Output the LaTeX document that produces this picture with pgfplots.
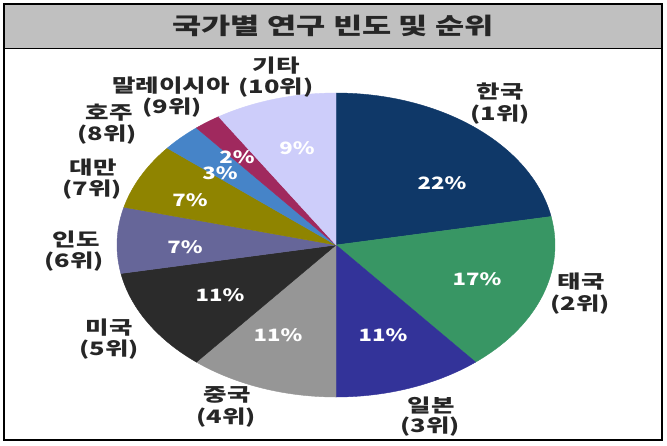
\documentclass[border=0pt]{standalone}
\usepackage{pgfplots}
\pgfplotsset{compat=1.18}
\usepackage{fontspec}
\setmainfont{Noto Sans CJK KR}
\definecolor{cKor}{HTML}{0F3868}
\definecolor{cTha}{HTML}{389664}
\definecolor{cJpn}{HTML}{333399}
\definecolor{cChn}{HTML}{969696}
\definecolor{cUsa}{HTML}{2B2B2B}
\definecolor{cInd}{HTML}{666699}
\definecolor{cTwn}{HTML}{8F8400}
\definecolor{cAus}{HTML}{4684C8}
\definecolor{cMys}{HTML}{A0295E}
\definecolor{cEtc}{HTML}{CDCDFA}
\definecolor{cTitle}{HTML}{C0C0C0}
\tikzset{
  lab/.style={font=\bfseries\fontsize{18.5}{18.5}\selectfont,xscale=1.38,inner sep=0pt,text=black!85},
  pct/.style={font=\bfseries\fontsize{17}{17}\selectfont,xscale=1.3,inner sep=0pt,text=white}}
\begin{document}
\begin{tikzpicture}
\begin{axis}[width=667pt,height=445pt,scale only axis,
  xmin=0,xmax=667,ymin=0,ymax=445,y dir=reverse,hide axis,clip=false]
\fill[white] (axis cs:0,0) rectangle (axis cs:667,445);
\fill[cTitle] (axis cs:4,4) rectangle (axis cs:662,48);
\draw[black,line width=1pt] (axis cs:4,48) -- (axis cs:662,48);
\draw[black,line width=1.5pt] (axis cs:4,4) rectangle (axis cs:662,440);
\node[font=\bfseries\fontsize{23}{23}\selectfont,xscale=1.38,inner sep=0pt,text=black!85] at (axis cs:333,26) {국가별 연구 빈도 및 순위};
% slices: percent ranges (cumulative), clockwise from top
\addplot[fill=cKor,draw=cKor,domain=0:22,samples=60,variable=\t] ({336+219*sin(3.6*\t)},{245-152*cos(3.6*\t)}) -- (axis cs:336,245) -- cycle;
\addplot[fill=cTha,draw=cTha,domain=22:39,samples=50,variable=\t] ({336+219*sin(3.6*\t)},{245-152*cos(3.6*\t)}) -- (axis cs:336,245) -- cycle;
\addplot[fill=cJpn,draw=cJpn,domain=39:50,samples=40,variable=\t] ({336+219*sin(3.6*\t)},{245-152*cos(3.6*\t)}) -- (axis cs:336,245) -- cycle;
\addplot[fill=cChn,draw=cChn,domain=50:61,samples=40,variable=\t] ({336+219*sin(3.6*\t)},{245-152*cos(3.6*\t)}) -- (axis cs:336,245) -- cycle;
\addplot[fill=cUsa,draw=cUsa,domain=61:72,samples=40,variable=\t] ({336+219*sin(3.6*\t)},{245-152*cos(3.6*\t)}) -- (axis cs:336,245) -- cycle;
\addplot[fill=cInd,draw=cInd,domain=72:79,samples=30,variable=\t] ({336+219*sin(3.6*\t)},{245-152*cos(3.6*\t)}) -- (axis cs:336,245) -- cycle;
\addplot[fill=cTwn,draw=cTwn,domain=79:86,samples=30,variable=\t] ({336+219*sin(3.6*\t)},{245-152*cos(3.6*\t)}) -- (axis cs:336,245) -- cycle;
\addplot[fill=cAus,draw=cAus,domain=86:89,samples=20,variable=\t] ({336+219*sin(3.6*\t)},{245-152*cos(3.6*\t)}) -- (axis cs:336,245) -- cycle;
\addplot[fill=cMys,draw=cMys,domain=89:91,samples=20,variable=\t] ({336+219*sin(3.6*\t)},{245-152*cos(3.6*\t)}) -- (axis cs:336,245) -- cycle;
\addplot[fill=cEtc,draw=cEtc,domain=91:100,samples=30,variable=\t] ({336+219*sin(3.6*\t)},{245-152*cos(3.6*\t)}) -- (axis cs:336,245) -- cycle;
% percentage labels
\node[pct] at (axis cs:442,183) {22\%};
\node[pct] at (axis cs:477,279) {17\%};
\node[pct] at (axis cs:383,335) {11\%};
\node[pct] at (axis cs:278,335) {11\%};
\node[pct] at (axis cs:220,295) {11\%};
\node[pct] at (axis cs:185,247) {7\%};
\node[pct] at (axis cs:190,200) {7\%};
\node[pct] at (axis cs:220,173) {3\%};
\node[pct] at (axis cs:237,157) {2\%};
\node[pct] at (axis cs:297,148) {9\%};
% category labels
\node[lab] at (axis cs:500,92) {한국};
\node[lab] at (axis cs:500,115) {(1위)};
\node[lab] at (axis cs:581,282) {태국};
\node[lab] at (axis cs:580,305) {(2위)};
\node[lab] at (axis cs:431,405) {일본};
\node[lab] at (axis cs:430,427) {(3위)};
\node[lab] at (axis cs:227,395) {중국};
\node[lab] at (axis cs:226,418) {(4위)};
\node[lab] at (axis cs:109,328) {미국};
\node[lab] at (axis cs:109,350) {(5위)};
\node[lab] at (axis cs:76,239) {인도};
\node[lab] at (axis cs:74,262) {(6위)};
\node[lab] at (axis cs:93,168) {대만};
\node[lab] at (axis cs:92,190) {(7위)};
\node[lab] at (axis cs:109,113) {호주};
\node[lab] at (axis cs:107,135) {(8위)};
\node[lab] at (axis cs:171,86) {말레이시아};
\node[lab] at (axis cs:172,108) {(9위)};
\node[lab] at (axis cs:276,66) {기타};
\node[lab] at (axis cs:276,88) {(10위)};
\end{axis}
\end{tikzpicture}
\end{document}
